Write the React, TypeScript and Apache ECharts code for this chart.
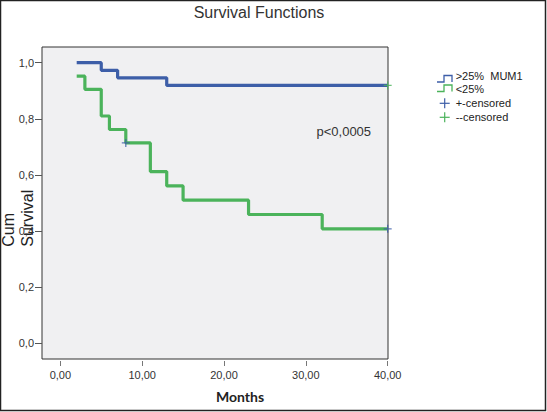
import React, { useEffect, useRef } from "react";
import * as echarts from "echarts";

// ---- data ----
const highMum1: [number, number][] = [
  [2, 1.0], [5, 0.973], [7, 0.946], [13, 0.919], [40, 0.919],
];
const lowMum1: [number, number][] = [
  [2, 0.952], [3, 0.905], [5, 0.81], [6, 0.762], [8, 0.714], [11, 0.612],
  [13, 0.561], [15, 0.51], [23, 0.459], [32, 0.408], [40, 0.408],
];
// censor marks as drawn in the picture (blue "+" and green "+")
const censoredPlus: [number, number][] = [[8, 0.714], [40, 0.408]];
const censoredMinus: [number, number][] = [[40, 0.919]];

const xTicks = [0, 10, 20, 30, 40];
const yTicks = [0, 0.2, 0.4, 0.6, 0.8, 1.0];
const legendLabels = [">25%\u00a0 MUM1", "<25%", "+-censored", "--censored"];
const titleText = "Survival Functions";
const xName = "Months";
const yNameLines = ["Cum", "Survival"];
const pText = "p<0,0005";

const BLUE = "#3d5ea8";
const GREEN = "#4bb35b";
const FONT = "Arial, 'Liberation Sans', sans-serif";
const PLUS = "path://M4.2,0H5.8V4.2H10V5.8H5.8V10H4.2V5.8H0V4.2H4.2Z";

export default function App() {
  const ref = useRef<HTMLDivElement>(null);
  useEffect(() => {
    if (!ref.current) return;
    const chart = echarts.init(ref.current, undefined, { renderer: "svg" });
    const step = (pts: number[][], y: number, color: string) => [
      { type: "polyline", shape: { points: pts.map(([a, b]) => [a, b + y]) }, style: { stroke: color, fill: "none", lineWidth: 1.3 } },
    ];
    const icon1 = [[437, 82], [444, 82], [444, 75.5], [452, 75.5], [452, 82]];
    const plusIcon = (cx: number, cy: number, color: string) => [
      { type: "line", shape: { x1: cx - 5, y1: cy, x2: cx + 5, y2: cy }, style: { stroke: color, lineWidth: 1.2 } },
      { type: "line", shape: { x1: cx, y1: cy - 5, x2: cx, y2: cy + 5 }, style: { stroke: color, lineWidth: 1.2 } },
    ];
    const legendY = [75.7, 88.5, 103.3, 117.3];
    chart.setOption({
      animation: false,
      backgroundColor: "#ffffff",
      grid: {
        left: 42, top: 47, width: 346, height: 312,
        show: true, backgroundColor: "#f0f0f2", borderColor: "#333", borderWidth: 1,
      },
      xAxis: {
        type: "value", min: -2.24, max: 40.04, offset: 2,
        axisLine: { show: false, onZero: false },
        splitLine: { show: false },
        axisTick: { show: true, length: 5, customValues: xTicks, lineStyle: { color: "#777" } },
        axisLabel: {
          customValues: xTicks, margin: 8, color: "#333", fontSize: 11, fontFamily: FONT,
          formatter: (v: number) => v.toFixed(2).replace(".", ","),
        },
      },
      yAxis: {
        type: "value", min: -0.056, max: 1.056,
        axisLine: { show: false, onZero: false },
        splitLine: { show: false },
        axisTick: { show: true, length: 7, customValues: yTicks, lineStyle: { color: "#555" } },
        axisLabel: {
          customValues: yTicks, margin: 8, color: "#333", fontSize: 11, fontFamily: FONT,
          formatter: (v: number) => v.toFixed(1).replace(".", ","),
        },
      },
      series: [
        { type: "line", step: "end", data: highMum1, symbol: "none", lineStyle: { color: BLUE, width: 3.2 }, z: 3 },
        { type: "line", step: "end", data: lowMum1, symbol: "none", lineStyle: { color: GREEN, width: 3.2 }, z: 3 },
        { type: "scatter", data: censoredPlus, symbol: PLUS, symbolSize: 8, itemStyle: { color: BLUE }, z: 4 },
        { type: "scatter", data: censoredMinus, symbol: PLUS, symbolSize: 8, itemStyle: { color: GREEN }, z: 4 },
      ],
      graphic: [
        { type: "rect", shape: { x: 0.5, y: 0.5, width: 545, height: 410 }, style: { fill: "none", stroke: "#222", lineWidth: 1.5 }, z: 100 },
        { type: "text", x: 259, y: 12, style: { text: titleText, font: `16px ${FONT}`, fill: "#333", textAlign: "center", textVerticalAlign: "middle" } },
        { type: "text", x: 240, y: 396, style: { text: xName, font: `bold 14px Lato, sans-serif`, fill: "#222", textAlign: "center", textVerticalAlign: "middle" } },
        { type: "text", x: 8.5, y: 246.7, rotation: Math.PI / 2, style: { text: yNameLines[0], font: `16px ${FONT}`, fill: "#222", textAlign: "left", textVerticalAlign: "middle" } },
        { type: "text", x: 27, y: 246.7, rotation: Math.PI / 2, style: { text: yNameLines[1], font: `16px ${FONT}`, fill: "#222", textAlign: "left", textVerticalAlign: "middle" } },
        { type: "text", x: 316.5, y: 131, style: { text: pText, font: `13px ${FONT}`, fill: "#333", textAlign: "left", textVerticalAlign: "middle" } },
        ...step(icon1, 0, BLUE),
        ...step(icon1, 9.5, GREEN),
        ...plusIcon(444.7, legendY[2], BLUE),
        ...plusIcon(444.7, legendY[3], GREEN),
        ...legendLabels.map((t, i) => ({
          type: "text", x: 455.7, y: legendY[i],
          style: { text: t, font: `11px ${FONT}`, fill: "#222", textAlign: "left", textVerticalAlign: "middle" },
        })),
      ],
    });
    return () => chart.dispose();
  }, []);
  return (
    <div style={{ position: "fixed", left: 0, top: 0, width: 547, height: 412, background: "#fff" }}>
      <div ref={ref} style={{ width: 547, height: 412 }} />
    </div>
  );
}
